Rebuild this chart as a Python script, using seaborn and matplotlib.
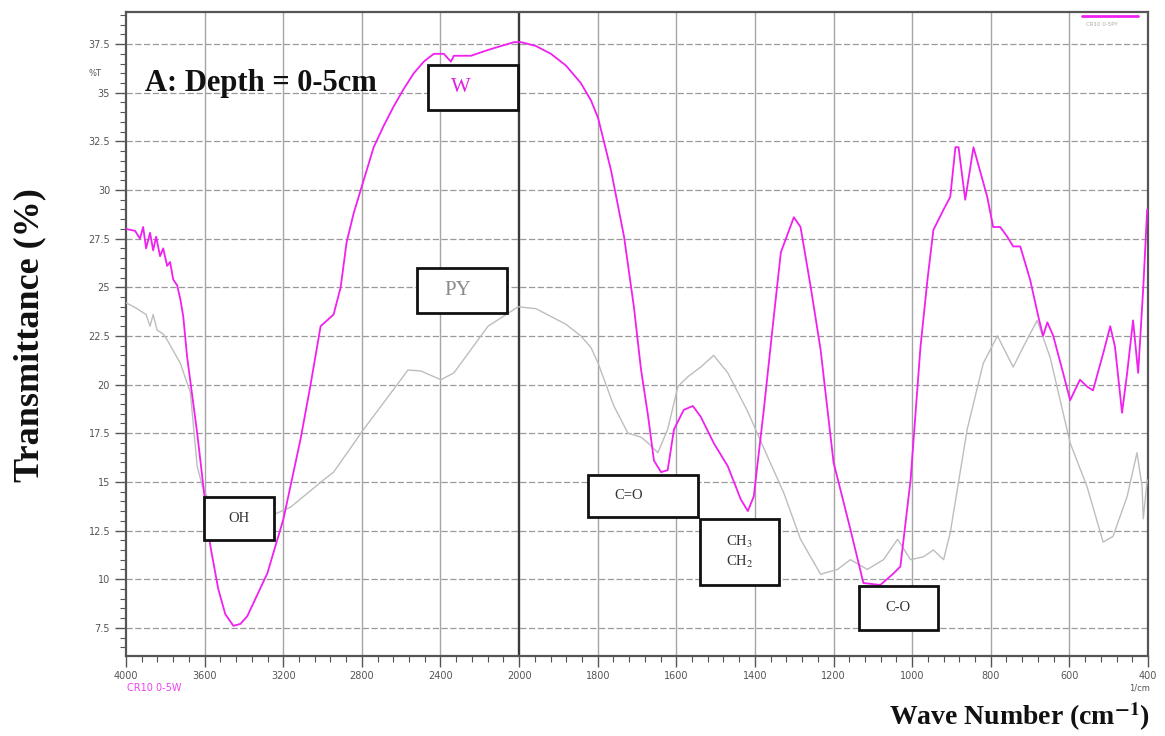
import numpy as np
import pandas as pd
import matplotlib
matplotlib.use("Agg")
import matplotlib.pyplot as plt
import seaborn as sns
from matplotlib.ticker import FixedLocator, FuncFormatter
from matplotlib.patches import Rectangle

# ---------------- data ----------------
wn_w = [4000, 3954, 3929, 3913, 3898, 3878, 3862, 3847, 3827, 3811, 3791, 3776, 3760, 3740, 3724, 3709, 3689,
        3638, 3607, 3571, 3531, 3495, 3454, 3418, 3383, 3332, 3281, 3199, 3112, 3061, 3010, 2944, 2908, 2878,
        2842, 2806, 2740, 2689, 2638, 2587, 2536, 2485, 2434, 2383, 2347, 2332, 2245, 2158, 2092, 2026, 1995,
        1957, 1919, 1881, 1843, 1817, 1799, 1766, 1733,
        1708, 1690, 1672, 1657, 1639, 1622, 1606, 1581, 1558, 1538, 1505, 1469, 1436, 1418, 1403, 1378, 1352,
        1334, 1301, 1284, 1258, 1233, 1200, 1157, 1124, 1081, 1047, 1030, 1004, 979, 961, 946, 920, 903, 890,
        882, 865, 844, 809, 794, 776, 758, 743, 725, 700, 679, 667, 656, 641, 616, 598, 573, 555, 540, 514,
        496, 484, 466, 453, 438, 425, 412, 402]
t_w = [28.0, 27.9, 27.5, 28.1, 27.0, 27.8, 26.9, 27.6, 26.6, 27.0, 26.1, 26.3, 25.4, 25.1, 24.4, 23.5, 21.4,
       17.5, 14.8, 11.7, 9.5, 8.2, 7.6, 7.7, 8.1, 9.2, 10.3, 13.1, 17.2, 20.0, 23.0, 23.6, 25.0, 27.3,
       28.8, 30.0, 32.2, 33.3, 34.3, 35.2, 36.0, 36.6, 37.0, 37.0, 36.6, 36.9, 36.9, 37.2, 37.4, 37.6, 37.6,
       37.4, 37.0, 36.4, 35.5, 34.6, 33.7, 31.0, 27.6,
       24.0, 20.8, 18.4, 16.1, 15.5, 15.6, 17.7, 18.7, 18.9, 18.35, 17.0, 15.8, 14.1, 13.5, 14.25, 18.6, 23.5,
       26.8, 28.6, 28.1, 25.0, 21.8, 16.0, 12.55, 9.8, 9.7, 10.3, 10.65, 15.1, 21.9, 25.4, 27.95, 29.0, 29.65, 32.2,
       32.2, 29.5, 32.2, 29.65, 28.1, 28.1, 27.6, 27.1, 27.1, 25.4, 23.5, 22.5, 23.2, 22.5, 20.6, 19.2, 20.25, 19.9, 19.7, 21.6,
       23.0, 21.95, 18.55, 20.6, 23.3, 20.6, 25.0, 29.0]

wn_py = [4000, 3960, 3929, 3898, 3878, 3862, 3842, 3811, 3791, 3724, 3673, 3638, 3607, 3546, 3469, 3342, 3230,
         3163, 2995, 2944, 2791, 2602, 2566, 2500, 2398, 2332, 2158, 2005, 1957, 1919, 1881, 1843, 1817, 1799,
         1759, 1723, 1690,
         1672, 1647, 1622, 1596, 1571, 1538, 1505, 1469, 1418, 1368, 1327, 1284, 1233, 1190, 1157, 1114, 1073,
         1037, 1004, 971, 946, 920, 903, 860, 819, 783, 743, 717, 682, 649, 598, 555, 514, 489, 453, 428, 415,
         412, 402]
t_py = [24.2, 24.0, 23.8, 23.6, 23.0, 23.6, 22.8, 22.6, 22.3, 21.1, 19.6, 15.8, 14.6, 13.5, 12.8, 12.9, 13.4,
        13.7, 15.1, 15.5, 17.7, 20.25, 20.75, 20.7, 20.25, 20.6, 23.0, 24.0, 23.9, 23.5, 23.1, 22.5, 21.9, 21.1,
        18.9, 17.5, 17.3,
        17.0, 16.5, 17.7, 19.9, 20.4, 20.9, 21.5, 20.6, 18.6, 16.3, 14.45, 12.05, 10.25, 10.5, 11.0, 10.5, 11.0,
        12.05, 11.0, 11.15, 11.5, 11.0, 12.4, 17.7, 21.1, 22.5, 20.9, 21.95, 23.3, 21.4, 17.0, 14.75, 11.9, 12.2,
        14.25, 16.5, 14.75, 13.1, 15.1]

x_major = [4000, 3600, 3200, 2800, 2400, 2000, 1800, 1600, 1400, 1200, 1000, 800, 600, 400]
y_major = [7.5, 10, 12.5, 15, 17.5, 20, 22.5, 25, 27.5, 30, 32.5, 35, 37.5]

box_labels = ["W", "PY", "OH", "C=O", "CH$_3$\nCH$_2$", "C-O"]

# ---------------- style ----------------
sns.set_theme(style="white")
plt.rcParams['font.family'] = ['DejaVu Sans']
plt.rcParams['mathtext.fontset'] = 'stix'
SERIF = 'Liberation Serif'

fig = plt.figure(figsize=(11.65, 7.36), dpi=100)
ax = fig.add_axes([0.1082, 0.1087, 0.8772, 0.875])

df_w = pd.DataFrame({'wn': wn_w, 'T': t_w})
df_py = pd.DataFrame({'wn': wn_py, 'T': t_py})

sns.lineplot(data=df_py, x='wn', y='T', ax=ax, color='#bdbdbd', lw=1.0,
             sort=False, estimator=None, zorder=3)
sns.lineplot(data=df_w, x='wn', y='T', ax=ax, color='#f020f0', lw=1.3,
             sort=False, estimator=None, zorder=4)


def fwd(x):
    x = np.asarray(x, dtype=float)
    return np.where(x > 2000, 2000 + (x - 2000) / 2.0, x)


def inv(y):
    y = np.asarray(y, dtype=float)
    return np.where(y > 2000, 2000 + (y - 2000) * 2.0, y)


ax.set_xscale('function', functions=(fwd, inv))
ax.set_xlim(4000, 400)
ax.set_ylim(6.05, 39.15)
ax.set_xlabel('')
ax.set_ylabel('')

# ticks
x_minor = [v for v in list(range(4000, 2000, -80)) + list(range(2000, 399, -40)) if v not in x_major]
ax.xaxis.set_major_locator(FixedLocator(x_major))
ax.xaxis.set_minor_locator(FixedLocator(x_minor))
ax.xaxis.set_major_formatter(FuncFormatter(lambda v, p: f"{int(round(v))}"))
y_minor = [v for v in np.arange(6.5, 39.01, 0.5) if min(abs(v - m) for m in y_major) > 1e-6]
ax.yaxis.set_major_locator(FixedLocator(y_major))
ax.yaxis.set_minor_locator(FixedLocator(y_minor))
ax.yaxis.set_major_formatter(FuncFormatter(lambda v, p: f"{v:g}"))
ax.tick_params(axis='both', which='major', direction='out', length=8, width=1.0,
               color='#555555', labelsize=7, labelcolor='#555555', bottom=True, left=True)
ax.tick_params(axis='both', which='minor', direction='out', length=4, width=0.8,
               color='#555555', bottom=True, left=True)
ax.tick_params(axis='x', pad=3)

# grid
for yv in y_major:
    ax.axhline(yv, color='#9a9a9a', lw=0.9, ls=(0, (5, 2)), zorder=1)
for xv in x_major[1:-1]:
    if xv == 2000:
        ax.axvline(xv, color='#3a3a3a', lw=1.7, zorder=2)
    else:
        ax.axvline(xv, color='#a5a5a5', lw=1.0, zorder=1)

for s in ax.spines.values():
    s.set_color('#555555')
    s.set_linewidth(1.6)

# annotation boxes
boxes = [(0.2955, 0.848, 0.3836, 0.9177), (0.2847, 0.5326, 0.3728, 0.6025),
         (0.0763, 0.1801, 0.1448, 0.2469), (0.4520, 0.216, 0.5597, 0.281),
         (0.5616, 0.110, 0.6390, 0.213), (0.7172, 0.0404, 0.7945, 0.109)]
text_pos = [(0.328, 0.883), (0.325, 0.568), (0.1106, 0.2135), (0.492, 0.2485),
            (0.6003, 0.1615), (0.7555, 0.0747)]
colors = ['#e020e0', '#8a8a8a', '#333333', '#333333', '#333333', '#333333']
sizes = [15, 15, 10.5, 10.5, 10.5, 10.5]
for lab, (x0, y0, x1, y1), (tx, ty), c, fs in zip(box_labels, boxes, text_pos, colors, sizes):
    ax.add_patch(Rectangle((x0, y0), x1 - x0, y1 - y0, transform=ax.transAxes,
                           facecolor='white', edgecolor='#111111', lw=2.0, zorder=6))
    ax.text(tx, ty, lab, transform=ax.transAxes, ha='center', va='center',
            color=c, fontsize=fs, family=SERIF, zorder=7, linespacing=1.3)

# texts
ax.text(0.0186, 0.8897, 'A: Depth = 0-5cm', transform=ax.transAxes, ha='left', va='center',
        fontsize=22, fontweight='bold', family=SERIF, color='#111111', zorder=8)
ax.text(-0.030, 0.905, '%T', transform=ax.transAxes, ha='center', va='center',
        fontsize=6, color='#555555')
ax.text(0.992, -0.0497, '1/cm', transform=ax.transAxes, ha='center', va='center',
        fontsize=6, color='#555555')
ax.text(0.001, -0.050, 'CR10 0-5W', transform=ax.transAxes, ha='left', va='center',
        fontsize=7, color='#f040f0')
ax.plot([0.935, 0.99], [0.994, 0.994], transform=ax.transAxes, color='#f020f0', lw=2.0,
        clip_on=False, zorder=9)
ax.text(0.955, 0.980, 'CR10 0-5PY', transform=ax.transAxes, ha='center', va='center',
        fontsize=4, color='#aaaaaa')

fig.text(0.0258, 0.545, 'Transmittance (%)', rotation=90, ha='center', va='center',
         fontsize=26, fontweight='bold', family=SERIF, color='#111111')
fig.text(0.987, 0.026, r'Wave Number (cm$^{\mathbf{-1}}$)', ha='right', va='center',
         fontsize=20, fontweight='bold', family=SERIF, color='#111111')

fig.savefig('out.png', dpi=100)
